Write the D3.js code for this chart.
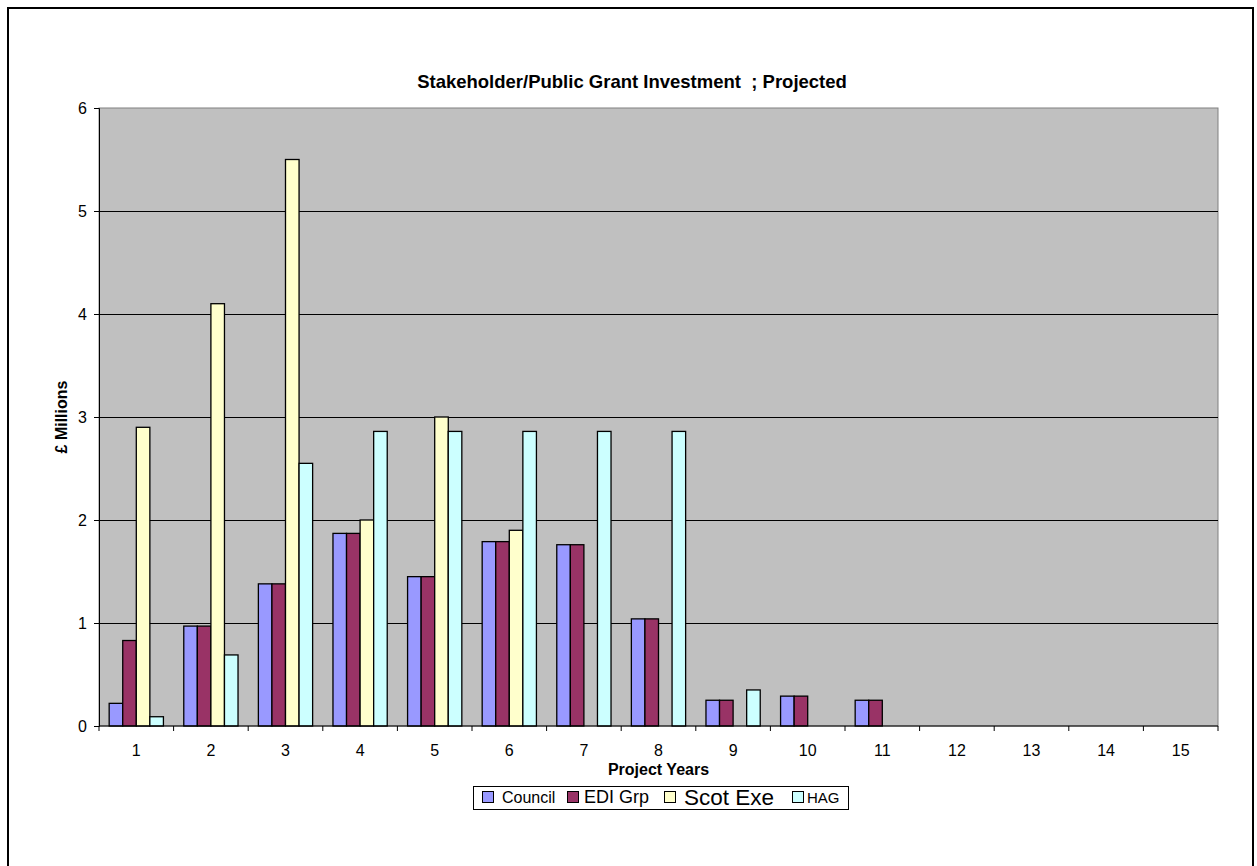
<!DOCTYPE html>
<html>
<head>
<meta charset="utf-8">
<script src="https://cdn.jsdelivr.net/npm/d3@7"></script>
<style>
  html, body { margin: 0; padding: 0; background: #fff; }
  svg { display: block; font-family: Arial, "Liberation Sans", sans-serif; }
</style>
</head>
<body>
<svg id="chart" width="1257" height="866"></svg>
<script>
// Project years along the category axis
const years = ["1","2","3","4","5","6","7","8","9","10","11","12","13","14","15"];

// Funding per year, £ millions
const council = [0.22, 0.97, 1.38, 1.87, 1.45, 1.79, 1.76, 1.04, 0.25, 0.29, 0.25, 0, 0, 0, 0];
const ediGrp  = [0.83, 0.97, 1.38, 1.87, 1.45, 1.79, 1.76, 1.04, 0.25, 0.29, 0.25, 0, 0, 0, 0];
const scotExe = [2.9, 4.1, 5.5, 2.0, 3.0, 1.9, 0, 0, 0, 0, 0, 0, 0, 0, 0];
const hag     = [0.09, 0.69, 2.55, 2.86, 2.86, 2.86, 2.86, 2.86, 0.35, 0, 0, 0, 0, 0, 0];

const seriesNames = ["Council", "EDI Grp", "Scot Exe", "HAG"];
const seriesColors = ["#9999FF", "#993366", "#FFFFCC", "#CCFFFF"];
const yTicks = [0, 1, 2, 3, 4, 5, 6];

const seriesValues = [council, ediGrp, scotExe, hag];

const FONT = "Arial, 'Liberation Sans', sans-serif";
const svg = d3.select("#chart");

// Outer chart frame
svg.append("rect")
  .attr("x", 8).attr("y", 8).attr("width", 1245).attr("height", 870)
  .attr("fill", "#fff").attr("stroke", "#000").attr("stroke-width", 2);

const plot = { left: 99, top: 108, right: 1218, bottom: 726 };

const x = d3.scaleBand().domain(years).range([plot.left, plot.right]).paddingInner(0).paddingOuter(0);
const groupPad = 1.5 / 5.5; // 150% gap between groups
const x1 = d3.scaleBand().domain(seriesNames)
  .range([x.bandwidth() * groupPad / 2, x.bandwidth() * (1 - groupPad / 2)]);
const y = d3.scaleLinear().domain([0, 6]).range([plot.bottom, plot.top]);

// Plot background
svg.append("rect")
  .attr("x", plot.left).attr("y", plot.top)
  .attr("width", plot.right - plot.left).attr("height", plot.bottom - plot.top)
  .attr("fill", "#C0C0C0").attr("stroke", "#808080").attr("stroke-width", 1);

// Horizontal gridlines
svg.append("g").selectAll("line")
  .data(yTicks.filter(d => d > 0 && d < 6))
  .join("line")
  .attr("x1", plot.left).attr("x2", plot.right)
  .attr("y1", d => Math.round(y(d)) + 0.5).attr("y2", d => Math.round(y(d)) + 0.5)
  .attr("stroke", "#000").attr("stroke-width", 1);

// Bars
const groups = svg.append("g").selectAll("g")
  .data(years)
  .join("g")
  .attr("transform", d => `translate(${x(d)},0)`);

groups.selectAll("rect")
  .data((d, i) => seriesNames.map((s, k) => ({ s, k, v: seriesValues[k][i] })).filter(e => e.v > 0))
  .join("rect")
  .attr("x", d => x1(d.s))
  .attr("width", x1.bandwidth())
  .attr("y", d => y(d.v))
  .attr("height", d => y(0) - y(d.v))
  .attr("fill", d => seriesColors[d.k])
  .attr("stroke", "#000").attr("stroke-width", 1.3);

// Y axis
const yAxis = d3.axisLeft(y).tickValues(yTicks).tickSize(5).tickPadding(7).tickFormat(d3.format("d"));
const gy = svg.append("g").attr("transform", `translate(${plot.left},0)`).call(yAxis);
gy.select(".domain").attr("stroke", "#000");
gy.selectAll("line").attr("stroke", "#000");
gy.selectAll("text").attr("font-size", 16).attr("font-family", FONT).attr("fill", "#000");

// X axis with ticks on category boundaries
const gx = svg.append("g").attr("transform", `translate(0,${plot.bottom})`);
gx.append("line").attr("x1", plot.left).attr("x2", plot.right).attr("y1", 0).attr("y2", 0).attr("stroke", "#000");
gx.selectAll("line.tick")
  .data(years.concat(["end"]))
  .join("line")
  .attr("class", "tick")
  .attr("x1", (d, i) => plot.left + i * x.bandwidth())
  .attr("x2", (d, i) => plot.left + i * x.bandwidth())
  .attr("y1", 0).attr("y2", 5).attr("stroke", "#000");
gx.selectAll("text")
  .data(years)
  .join("text")
  .attr("x", d => x(d) + x.bandwidth() / 2)
  .attr("y", 30)
  .attr("text-anchor", "middle")
  .attr("font-size", 16)
  .text(d => d);

// Title and axis titles
svg.append("text")
  .attr("x", 632).attr("y", 88)
  .attr("text-anchor", "middle")
  .attr("font-size", 18.5).attr("font-weight", "bold")
  .style("white-space", "pre")
  .text("Stakeholder/Public Grant Investment  ; Projected");

svg.append("text")
  .attr("x", (plot.left + plot.right) / 2).attr("y", 775)
  .attr("text-anchor", "middle")
  .attr("font-size", 16).attr("font-weight", "bold")
  .text("Project Years");

svg.append("text")
  .attr("transform", "translate(67,417) rotate(-90)")
  .attr("text-anchor", "middle")
  .attr("font-size", 16).attr("font-weight", "bold")
  .text("£ Millions");

// Legend
const legend = svg.append("g");
legend.append("rect")
  .attr("x", 473.5).attr("y", 786.5).attr("width", 375).attr("height", 23)
  .attr("fill", "#fff").attr("stroke", "#000").attr("stroke-width", 1);

const legendItems = [
  { sx: 482, tx: 502, size: 16 },
  { sx: 567, tx: 584, size: 18 },
  { sx: 664, tx: 684, size: 22.5 },
  { sx: 792, tx: 807, size: 15 }
];
legendItems.forEach((it, k) => {
  legend.append("rect")
    .attr("x", it.sx + 0.5).attr("y", 791.5).attr("width", 11).attr("height", 11)
    .attr("fill", seriesColors[k]).attr("stroke", "#000").attr("stroke-width", 1);
  legend.append("text")
    .attr("x", it.tx).attr("y", it.size > 20 ? 805 : 803)
    .attr("font-size", it.size)
    .text(seriesNames[k]);
});
</script>
</body>
</html>
